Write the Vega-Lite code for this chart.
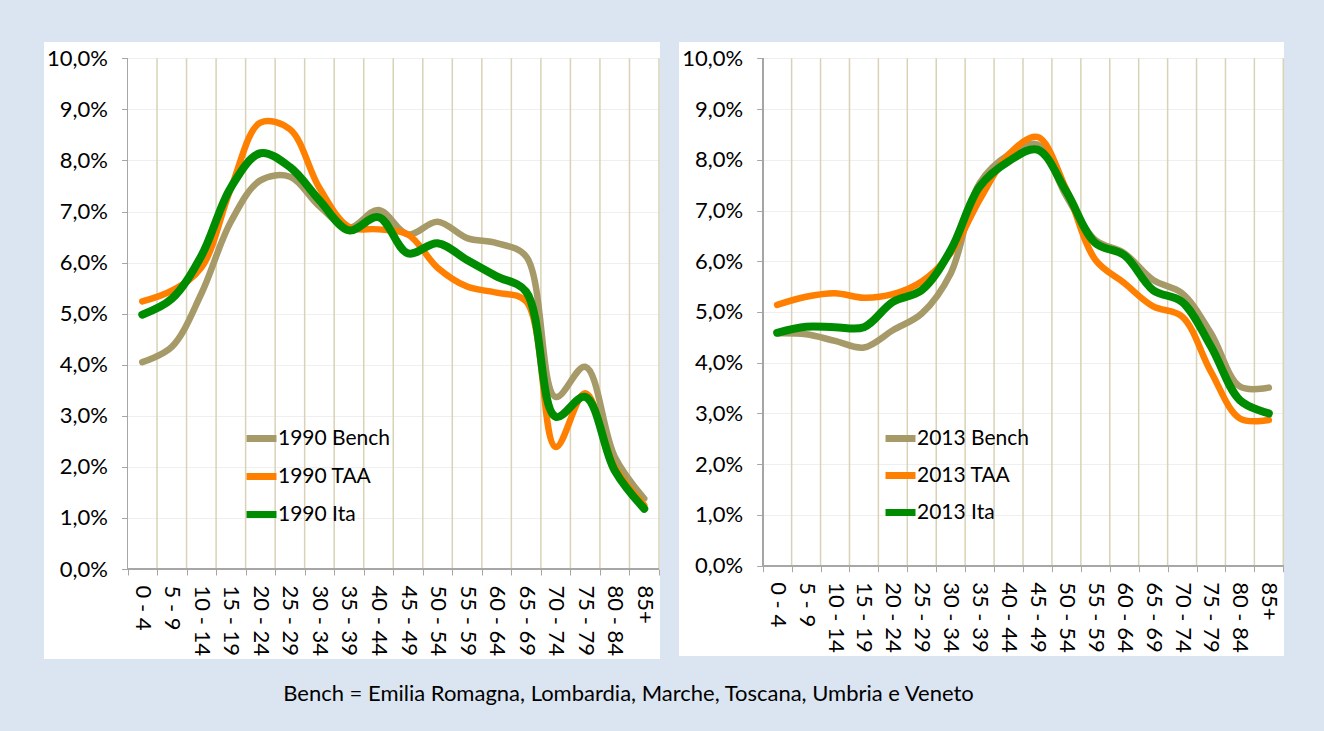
{
  "$schema": "https://vega.github.io/schema/vega-lite/v6.json",
  "background": "#dbe5f1",
  "padding": {"left": 33, "top": 42, "right": 41, "bottom": 26},
  "bounds": "flush",
  "config": {
    "font": "Lato",
    "view": {"fill": "white", "stroke": null},
    "axis": {"labelColor": "black", "labelFontSize": 22, "title": null, "tickColor": "#a6a6a6", "tickSize": 6, "domain": false},
    "legend": {"orient": "none", "title": null, "symbolType": "stroke", "symbolStrokeWidth": 7, "symbolSize": 900, "labelFontSize": 21, "labelColor": "black", "labelOffset": -2, "padding": 0}
  },
  "title": {"text": "Bench = Emilia Romagna, Lombardia, Marche, Toscana, Umbria e Veneto", "orient": "bottom", "anchor": "middle", "fontSize": 22, "fontWeight": "normal", "color": "black", "offset": 25, "dx": -30},
  "datasets": {
    "d1990": [
      {"series": "1990 Bench", "group": "Bench", "age": "0 - 4", "share": 0.0405},
      {"series": "1990 Bench", "group": "Bench", "age": "5 - 9", "share": 0.0435},
      {"series": "1990 Bench", "group": "Bench", "age": "10 - 14", "share": 0.0539},
      {"series": "1990 Bench", "group": "Bench", "age": "15 - 19", "share": 0.068},
      {"series": "1990 Bench", "group": "Bench", "age": "20 - 24", "share": 0.0761},
      {"series": "1990 Bench", "group": "Bench", "age": "25 - 29", "share": 0.0768},
      {"series": "1990 Bench", "group": "Bench", "age": "30 - 34", "share": 0.071},
      {"series": "1990 Bench", "group": "Bench", "age": "35 - 39", "share": 0.0668},
      {"series": "1990 Bench", "group": "Bench", "age": "40 - 44", "share": 0.0703},
      {"series": "1990 Bench", "group": "Bench", "age": "45 - 49", "share": 0.0655},
      {"series": "1990 Bench", "group": "Bench", "age": "50 - 54", "share": 0.068},
      {"series": "1990 Bench", "group": "Bench", "age": "55 - 59", "share": 0.0648},
      {"series": "1990 Bench", "group": "Bench", "age": "60 - 64", "share": 0.0638},
      {"series": "1990 Bench", "group": "Bench", "age": "65 - 69", "share": 0.0612},
      {"series": "1990 Bench", "group": "Bench", "age": "70 - 74", "share": 0.0337},
      {"series": "1990 Bench", "group": "Bench", "age": "75 - 79", "share": 0.0396},
      {"series": "1990 Bench", "group": "Bench", "age": "80 - 84", "share": 0.022},
      {"series": "1990 Bench", "group": "Bench", "age": "85+", "share": 0.0138},
      {"series": "1990 TAA", "group": "TAA", "age": "0 - 4", "share": 0.0524},
      {"series": "1990 TAA", "group": "TAA", "age": "5 - 9", "share": 0.0545},
      {"series": "1990 TAA", "group": "TAA", "age": "10 - 14", "share": 0.059},
      {"series": "1990 TAA", "group": "TAA", "age": "15 - 19", "share": 0.0745},
      {"series": "1990 TAA", "group": "TAA", "age": "20 - 24", "share": 0.0874},
      {"series": "1990 TAA", "group": "TAA", "age": "25 - 29", "share": 0.0861},
      {"series": "1990 TAA", "group": "TAA", "age": "30 - 34", "share": 0.0746},
      {"series": "1990 TAA", "group": "TAA", "age": "35 - 39", "share": 0.067},
      {"series": "1990 TAA", "group": "TAA", "age": "40 - 44", "share": 0.0665},
      {"series": "1990 TAA", "group": "TAA", "age": "45 - 49", "share": 0.0655},
      {"series": "1990 TAA", "group": "TAA", "age": "50 - 54", "share": 0.059},
      {"series": "1990 TAA", "group": "TAA", "age": "55 - 59", "share": 0.0553},
      {"series": "1990 TAA", "group": "TAA", "age": "60 - 64", "share": 0.0541},
      {"series": "1990 TAA", "group": "TAA", "age": "65 - 69", "share": 0.0524},
      {"series": "1990 TAA", "group": "TAA", "age": "70 - 74", "share": 0.0239},
      {"series": "1990 TAA", "group": "TAA", "age": "75 - 79", "share": 0.0344},
      {"series": "1990 TAA", "group": "TAA", "age": "80 - 84", "share": 0.02},
      {"series": "1990 TAA", "group": "TAA", "age": "85+", "share": 0.0125},
      {"series": "1990 Ita", "group": "Ita", "age": "0 - 4", "share": 0.0498},
      {"series": "1990 Ita", "group": "Ita", "age": "5 - 9", "share": 0.0529},
      {"series": "1990 Ita", "group": "Ita", "age": "10 - 14", "share": 0.0613},
      {"series": "1990 Ita", "group": "Ita", "age": "15 - 19", "share": 0.0747},
      {"series": "1990 Ita", "group": "Ita", "age": "20 - 24", "share": 0.0814},
      {"series": "1990 Ita", "group": "Ita", "age": "25 - 29", "share": 0.0787},
      {"series": "1990 Ita", "group": "Ita", "age": "30 - 34", "share": 0.0722},
      {"series": "1990 Ita", "group": "Ita", "age": "35 - 39", "share": 0.0663},
      {"series": "1990 Ita", "group": "Ita", "age": "40 - 44", "share": 0.0689},
      {"series": "1990 Ita", "group": "Ita", "age": "45 - 49", "share": 0.0618},
      {"series": "1990 Ita", "group": "Ita", "age": "50 - 54", "share": 0.0638},
      {"series": "1990 Ita", "group": "Ita", "age": "55 - 59", "share": 0.0605},
      {"series": "1990 Ita", "group": "Ita", "age": "60 - 64", "share": 0.0573},
      {"series": "1990 Ita", "group": "Ita", "age": "65 - 69", "share": 0.0543},
      {"series": "1990 Ita", "group": "Ita", "age": "70 - 74", "share": 0.0298},
      {"series": "1990 Ita", "group": "Ita", "age": "75 - 79", "share": 0.0337},
      {"series": "1990 Ita", "group": "Ita", "age": "80 - 84", "share": 0.0193},
      {"series": "1990 Ita", "group": "Ita", "age": "85+", "share": 0.0118}
    ],
    "d2013": [
      {"series": "2013 Bench", "group": "Bench", "age": "0 - 4", "share": 0.0458},
      {"series": "2013 Bench", "group": "Bench", "age": "5 - 9", "share": 0.0456},
      {"series": "2013 Bench", "group": "Bench", "age": "10 - 14", "share": 0.0443},
      {"series": "2013 Bench", "group": "Bench", "age": "15 - 19", "share": 0.043},
      {"series": "2013 Bench", "group": "Bench", "age": "20 - 24", "share": 0.0464},
      {"series": "2013 Bench", "group": "Bench", "age": "25 - 29", "share": 0.0497},
      {"series": "2013 Bench", "group": "Bench", "age": "30 - 34", "share": 0.0576},
      {"series": "2013 Bench", "group": "Bench", "age": "35 - 39", "share": 0.0754},
      {"series": "2013 Bench", "group": "Bench", "age": "40 - 44", "share": 0.081},
      {"series": "2013 Bench", "group": "Bench", "age": "45 - 49", "share": 0.083},
      {"series": "2013 Bench", "group": "Bench", "age": "50 - 54", "share": 0.0728},
      {"series": "2013 Bench", "group": "Bench", "age": "55 - 59", "share": 0.0642},
      {"series": "2013 Bench", "group": "Bench", "age": "60 - 64", "share": 0.0616},
      {"series": "2013 Bench", "group": "Bench", "age": "65 - 69", "share": 0.0563},
      {"series": "2013 Bench", "group": "Bench", "age": "70 - 74", "share": 0.0537},
      {"series": "2013 Bench", "group": "Bench", "age": "75 - 79", "share": 0.0458},
      {"series": "2013 Bench", "group": "Bench", "age": "80 - 84", "share": 0.0353},
      {"series": "2013 Bench", "group": "Bench", "age": "85+", "share": 0.0351},
      {"series": "2013 TAA", "group": "TAA", "age": "0 - 4", "share": 0.0514},
      {"series": "2013 TAA", "group": "TAA", "age": "5 - 9", "share": 0.053},
      {"series": "2013 TAA", "group": "TAA", "age": "10 - 14", "share": 0.0537},
      {"series": "2013 TAA", "group": "TAA", "age": "15 - 19", "share": 0.0528},
      {"series": "2013 TAA", "group": "TAA", "age": "20 - 24", "share": 0.0535},
      {"series": "2013 TAA", "group": "TAA", "age": "25 - 29", "share": 0.056},
      {"series": "2013 TAA", "group": "TAA", "age": "30 - 34", "share": 0.0616},
      {"series": "2013 TAA", "group": "TAA", "age": "35 - 39", "share": 0.0721},
      {"series": "2013 TAA", "group": "TAA", "age": "40 - 44", "share": 0.081},
      {"series": "2013 TAA", "group": "TAA", "age": "45 - 49", "share": 0.0845},
      {"series": "2013 TAA", "group": "TAA", "age": "50 - 54", "share": 0.0741},
      {"series": "2013 TAA", "group": "TAA", "age": "55 - 59", "share": 0.0603},
      {"series": "2013 TAA", "group": "TAA", "age": "60 - 64", "share": 0.0557},
      {"series": "2013 TAA", "group": "TAA", "age": "65 - 69", "share": 0.0511},
      {"series": "2013 TAA", "group": "TAA", "age": "70 - 74", "share": 0.0491},
      {"series": "2013 TAA", "group": "TAA", "age": "75 - 79", "share": 0.0382},
      {"series": "2013 TAA", "group": "TAA", "age": "80 - 84", "share": 0.029},
      {"series": "2013 TAA", "group": "TAA", "age": "85+", "share": 0.0287},
      {"series": "2013 Ita", "group": "Ita", "age": "0 - 4", "share": 0.0459},
      {"series": "2013 Ita", "group": "Ita", "age": "5 - 9", "share": 0.0471},
      {"series": "2013 Ita", "group": "Ita", "age": "10 - 14", "share": 0.047},
      {"series": "2013 Ita", "group": "Ita", "age": "15 - 19", "share": 0.047},
      {"series": "2013 Ita", "group": "Ita", "age": "20 - 24", "share": 0.052},
      {"series": "2013 Ita", "group": "Ita", "age": "25 - 29", "share": 0.0543},
      {"series": "2013 Ita", "group": "Ita", "age": "30 - 34", "share": 0.0622},
      {"series": "2013 Ita", "group": "Ita", "age": "35 - 39", "share": 0.0747},
      {"series": "2013 Ita", "group": "Ita", "age": "40 - 44", "share": 0.0797},
      {"series": "2013 Ita", "group": "Ita", "age": "45 - 49", "share": 0.082},
      {"series": "2013 Ita", "group": "Ita", "age": "50 - 54", "share": 0.0737},
      {"series": "2013 Ita", "group": "Ita", "age": "55 - 59", "share": 0.0636},
      {"series": "2013 Ita", "group": "Ita", "age": "60 - 64", "share": 0.0612},
      {"series": "2013 Ita", "group": "Ita", "age": "65 - 69", "share": 0.0543},
      {"series": "2013 Ita", "group": "Ita", "age": "70 - 74", "share": 0.052},
      {"series": "2013 Ita", "group": "Ita", "age": "75 - 79", "share": 0.0432},
      {"series": "2013 Ita", "group": "Ita", "age": "80 - 84", "share": 0.0326},
      {"series": "2013 Ita", "group": "Ita", "age": "85+", "share": 0.03}
    ]
  },
  "spacing": 19,
  "resolve": {"scale": {"x": "independent", "y": "independent", "color": "independent"}, "legend": {"color": "independent"}},
  "hconcat": [
    {
      "width": 616,
      "height": 617,
      "data": {"name": "d1990"},
      "layer": [
        {
          "transform": [{"filter": "datum.group === 'Bench'"}],
          "mark": {"type": "rule", "color": "#d9d2b6", "strokeWidth": 1.5},
          "encoding": {
            "x": {"field": "age", "type": "nominal", "bandPosition": 1},
            "y": {"datum": 0, "type": "quantitative"},
            "y2": {"datum": 0.1}
          }
        },
        {
          "mark": {"type": "rule", "color": "#a6a6a6", "strokeWidth": 1},
          "encoding": {
            "x": {"datum": "0 - 4", "type": "nominal", "bandPosition": 0},
            "y": {"datum": 0, "type": "quantitative"},
            "y2": {"datum": 0.1}
          }
        },
        {
          "mark": {"type": "rule", "color": "#a6a6a6", "strokeWidth": 1},
          "encoding": {
            "x": {"datum": "0 - 4", "type": "nominal", "bandPosition": 0},
            "x2": {"datum": "85+", "bandPosition": 1},
            "y": {"datum": 0, "type": "quantitative"}
          }
        },
        {
          "transform": [{"filter": "datum.group !== 'Ita'"}],
          "mark": {"type": "line", "interpolate": "catmull-rom", "strokeWidth": 6.5, "strokeCap": "round", "strokeJoin": "round"},
          "encoding": {
            "x": {"field": "age", "type": "nominal"},
            "y": {"field": "share", "type": "quantitative"},
            "color": {"field": "series", "type": "nominal"}
          }
        },
        {
          "transform": [{"filter": "datum.group === 'Ita'"}],
          "mark": {"type": "line", "interpolate": "catmull-rom", "strokeWidth": 8, "strokeCap": "round", "strokeJoin": "round"},
          "encoding": {
            "x": {
              "field": "age", "type": "nominal",
              "scale": {"domain": ["0 - 4", "5 - 9", "10 - 14", "15 - 19", "20 - 24", "25 - 29", "30 - 34", "35 - 39", "40 - 44", "45 - 49", "50 - 54", "55 - 59", "60 - 64", "65 - 69", "70 - 74", "75 - 79", "80 - 84", "85+"], "paddingInner": 0, "paddingOuter": 0, "range": [83.5, 615]},
              "axis": {"orient": "bottom", "offset": -90, "tickBand": "extent", "labelAngle": 90, "labelAlign": "left", "labelBaseline": "middle", "labelPadding": 10, "grid": false, "labelOverlap": false}
            },
            "y": {
              "field": "share", "type": "quantitative",
              "scale": {"domain": [-0.01762, 0.10319], "nice": false, "zero": false},
              "axis": {"values": [0, 0.01, 0.02, 0.03, 0.04, 0.05, 0.06, 0.07, 0.08, 0.09, 0.1], "labelExpr": "replace(format(datum.value, '.1%'), '.', ',')", "offset": -83.5, "grid": true, "gridColor": "#efefef", "labelPadding": 14}
            },
            "color": {
              "field": "series", "type": "nominal",
              "scale": {"domain": ["1990 Bench", "1990 TAA", "1990 Ita"], "range": ["#a69a68", "#ff7f00", "#008c00"]},
              "legend": {"legendX": 199, "legendY": 378, "rowPadding": 5}
            }
          }
        }
      ]
    },
    {
      "width": 605,
      "height": 614,
      "data": {"name": "d2013"},
      "layer": [
        {
          "transform": [{"filter": "datum.group === 'Bench'"}],
          "mark": {"type": "rule", "color": "#d9d2b6", "strokeWidth": 1.5},
          "encoding": {
            "x": {"field": "age", "type": "nominal", "bandPosition": 1},
            "y": {"datum": 0, "type": "quantitative"},
            "y2": {"datum": 0.1}
          }
        },
        {
          "mark": {"type": "rule", "color": "#a6a6a6", "strokeWidth": 1},
          "encoding": {
            "x": {"datum": "0 - 4", "type": "nominal", "bandPosition": 0},
            "y": {"datum": 0, "type": "quantitative"},
            "y2": {"datum": 0.1}
          }
        },
        {
          "mark": {"type": "rule", "color": "#a6a6a6", "strokeWidth": 1},
          "encoding": {
            "x": {"datum": "0 - 4", "type": "nominal", "bandPosition": 0},
            "x2": {"datum": "85+", "bandPosition": 1},
            "y": {"datum": 0, "type": "quantitative"}
          }
        },
        {
          "transform": [{"filter": "datum.group !== 'Ita'"}],
          "mark": {"type": "line", "interpolate": "catmull-rom", "strokeWidth": 6.5, "strokeCap": "round", "strokeJoin": "round"},
          "encoding": {
            "x": {"field": "age", "type": "nominal"},
            "y": {"field": "share", "type": "quantitative"},
            "color": {"field": "series", "type": "nominal"}
          }
        },
        {
          "transform": [{"filter": "datum.group === 'Ita'"}],
          "mark": {"type": "line", "interpolate": "catmull-rom", "strokeWidth": 8, "strokeCap": "round", "strokeJoin": "round"},
          "encoding": {
            "x": {
              "field": "age", "type": "nominal",
              "scale": {"domain": ["0 - 4", "5 - 9", "10 - 14", "15 - 19", "20 - 24", "25 - 29", "30 - 34", "35 - 39", "40 - 44", "45 - 49", "50 - 54", "55 - 59", "60 - 64", "65 - 69", "70 - 74", "75 - 79", "80 - 84", "85+"], "paddingInner": 0, "paddingOuter": 0, "range": [83.7, 604.3]},
              "axis": {"orient": "bottom", "offset": -90.3, "tickBand": "extent", "labelAngle": 90, "labelAlign": "left", "labelBaseline": "middle", "labelPadding": 10, "grid": false, "labelOverlap": false}
            },
            "y": {
              "field": "share", "type": "quantitative",
              "scale": {"domain": [-0.0178, 0.10321], "nice": false, "zero": false},
              "axis": {"values": [0, 0.01, 0.02, 0.03, 0.04, 0.05, 0.06, 0.07, 0.08, 0.09, 0.1], "labelExpr": "replace(format(datum.value, '.1%'), '.', ',')", "offset": -83.7, "grid": true, "gridColor": "#efefef", "labelPadding": 14}
            },
            "color": {
              "field": "series", "type": "nominal",
              "scale": {"domain": ["2013 Bench", "2013 TAA", "2013 Ita"], "range": ["#a69a68", "#ff7f00", "#008c00"]},
              "legend": {"legendX": 203, "legendY": 378, "rowPadding": 4}
            }
          }
        }
      ]
    }
  ]
}
